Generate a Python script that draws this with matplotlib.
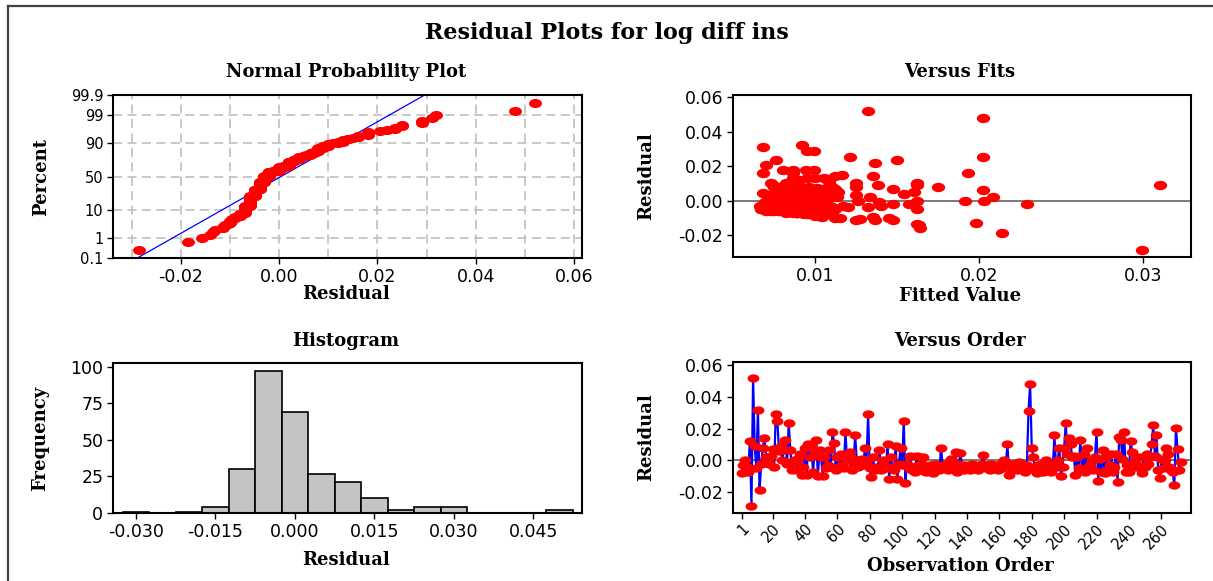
from statistics import NormalDist

import matplotlib
matplotlib.use("Agg")
import matplotlib.pyplot as plt
import numpy as np
from matplotlib.lines import Line2D
from matplotlib.path import Path
from matplotlib.ticker import FormatStrFormatter
from matplotlib.transforms import Affine2D

residuals = [
    -0.008, -0.003, 0.000, -0.004, -0.007, 0.012, -0.0285, 0.052, 0.009, -0.005,
    0.032, -0.0186, -0.002, 0.008, 0.014, 0.002, 0.000, -0.002, 0.003, 0.007,
    -0.004, 0.029, 0.025, 0.006, 0.009, 0.000, 0.0065, 0.013, -0.002, 0.0235,
    0.0065, -0.006, 0.000, -0.001, -0.006, 0.001, 0.004, -0.009, -0.004, 0.008,
    -0.009, 0.010, 0.002, 0.009, -0.007, 0.005, 0.013, -0.010, 0.0065, 0.002,
    -0.010, 0.002, -0.005, -0.003, 0.0063, -0.004, 0.018, 0.011, -0.006, 0.002,
    -0.004, 0.004, -0.003, -0.005, 0.018, 0.000, 0.003, 0.005, -0.006, -0.002,
    0.016, 0.000, -0.004, -0.002, 0.001, -0.003, 0.0075, -0.001, 0.029, -0.005,
    -0.0105, 0.002, -0.006, -0.004, -0.005, 0.0065, -0.006, 0.000, -0.003, -0.005,
    0.010, -0.0115, 0.002, -0.004, -0.006, 0.009, -0.0115, -0.002, 0.0075, -0.003,
    0.025, -0.014, -0.002, -0.005, 0.003, -0.006, -0.004, -0.007, 0.003, -0.003,
    -0.006, -0.002, 0.002, -0.005, -0.007, -0.004, -0.003, -0.006, -0.008, -0.002,
    -0.005, -0.004, -0.006, 0.008, -0.003, -0.005, -0.002, -0.006, -0.004, 0.001,
    -0.005, -0.003, 0.0055, -0.007, -0.002, 0.0045, -0.004, -0.006, -0.003, -0.005,
    -0.004, -0.006, -0.002, -0.005, -0.003, -0.004, -0.006, -0.003, -0.002, 0.0035,
    -0.004, -0.005, -0.003, -0.006, -0.002, -0.004, -0.005, -0.003, -0.006, -0.004,
    -0.002, -0.005, 0.000, -0.003, 0.010, -0.0095, -0.004, -0.002, -0.005, -0.003,
    -0.006, -0.001, -0.004, -0.002, -0.005, -0.007, -0.003, 0.031, 0.048, 0.008,
    0.002, -0.006, -0.008, -0.003, -0.005, -0.002, -0.007, -0.004, 0.000, -0.006,
    -0.003, -0.007, -0.005, 0.016, -0.004, 0.000, 0.008, -0.010, -0.004, 0.008,
    0.0235, 0.004, 0.014, 0.010, 0.002, 0.003, -0.0095, 0.002, -0.005, 0.013,
    -0.006, 0.004, -0.007, 0.008, -0.004, -0.003, 0.000, -0.006, 0.002, 0.018,
    -0.013, 0.001, -0.007, 0.0065, -0.008, 0.002, -0.006, -0.003, 0.004, -0.007,
    -0.004, 0.004, -0.0135, 0.015, 0.013, 0.001, 0.018, -0.007, -0.003, -0.007,
    0.012, 0.005, -0.004, 0.000, -0.003, 0.002, -0.005, -0.008, 0.002, -0.004,
    0.004, -0.002, 0.002, 0.010, 0.022, 0.003, 0.016, -0.006, -0.011, 0.001,
    -0.005, 0.000, 0.008, 0.004, -0.004, -0.006, -0.007, -0.0157, 0.0205, 0.007,
    -0.006, -0.001,
]

fitted = [
    0.0095, 0.0140, 0.0203, 0.0132, 0.0110, 0.0090, 0.0299, 0.0132, 0.0310, 0.0162,
    0.0092, 0.0214, 0.0229, 0.0175, 0.0135, 0.0208, 0.0191, 0.0157, 0.0125, 0.0147,
    0.0120, 0.0095, 0.0202, 0.0202, 0.0138, 0.0162, 0.0112, 0.0095, 0.0147, 0.0150,
    0.0104, 0.0085, 0.0126, 0.0139, 0.0090, 0.0098, 0.0154, 0.0102, 0.0088, 0.0125,
    0.0100, 0.0162, 0.0133, 0.0162, 0.0098, 0.0160, 0.0105, 0.0115, 0.0093, 0.0110,
    0.0112, 0.0096, 0.0083, 0.0101, 0.0087, 0.0090, 0.0094, 0.0108, 0.0092, 0.0085,
    0.0079, 0.0105, 0.0097, 0.0088, 0.0080, 0.0106, 0.0091, 0.0114, 0.0084, 0.0099,
    0.0068, 0.0089, 0.0094, 0.0103, 0.0082, 0.0117, 0.0087, 0.0096, 0.0099, 0.0108,
    0.0127, 0.0090, 0.0101, 0.0083, 0.0112, 0.0077, 0.0094, 0.0086, 0.0105, 0.0091,
    0.0082, 0.0136, 0.0097, 0.0110, 0.0087, 0.0074, 0.0147, 0.0093, 0.0101, 0.0085,
    0.0121, 0.0163, 0.0088, 0.0079, 0.0095, 0.0083, 0.0098, 0.0090, 0.0076, 0.0087,
    0.0074, 0.0081, 0.0092, 0.0070, 0.0089, 0.0076, 0.0084, 0.0080, 0.0093, 0.0071,
    0.0078, 0.0072, 0.0086, 0.0075, 0.0079, 0.0083, 0.0069, 0.0077, 0.0085, 0.0073,
    0.0071, 0.0080, 0.0078, 0.0082, 0.0074, 0.0068, 0.0077, 0.0070, 0.0088, 0.0076,
    0.0069, 0.0081, 0.0073, 0.0067, 0.0079, 0.0084, 0.0072, 0.0070, 0.0078, 0.0071,
    0.0075, 0.0068, 0.0082, 0.0074, 0.0069, 0.0077, 0.0073, 0.0066, 0.0079, 0.0072,
    0.0076, 0.0070, 0.0081, 0.0068, 0.0073, 0.0135, 0.0075, 0.0083, 0.0067, 0.0072,
    0.0078, 0.0069, 0.0074, 0.0080, 0.0071, 0.0086, 0.0077, 0.0068, 0.0202, 0.0085,
    0.0105, 0.0089, 0.0096, 0.0081, 0.0094, 0.0076, 0.0099, 0.0087, 0.0092, 0.0083,
    0.0090, 0.0088, 0.0079, 0.0193, 0.0097, 0.0086, 0.0091, 0.0145, 0.0103, 0.0078,
    0.0076, 0.0099, 0.0112, 0.0086, 0.0107, 0.0095, 0.0104, 0.0113, 0.0090, 0.0100,
    0.0093, 0.0082, 0.0101, 0.0096, 0.0088, 0.0109, 0.0094, 0.0085, 0.0106, 0.0086,
    0.0198, 0.0098, 0.0092, 0.0084, 0.0100, 0.0091, 0.0107, 0.0082, 0.0096, 0.0089,
    0.0095, 0.0087, 0.0162, 0.0116, 0.0086, 0.0102, 0.0099, 0.0097, 0.0083, 0.0088,
    0.0108, 0.0093, 0.0090, 0.0104, 0.0081, 0.0097, 0.0088, 0.0095, 0.0111, 0.0084,
    0.0092, 0.0079, 0.0101, 0.0125, 0.0136, 0.0089, 0.0086, 0.0094, 0.0125, 0.0098,
    0.0087, 0.0095, 0.0110, 0.0091, 0.0082, 0.0099, 0.0093, 0.0164, 0.0070, 0.0106,
    0.0088, 0.0097,
]

hist_centers = [-0.030, -0.025, -0.020, -0.015, -0.010, -0.005, 0.000, 0.005, 0.010,
                0.015, 0.020, 0.025, 0.030, 0.035, 0.040, 0.045, 0.050]
hist_counts = [1, 0, 1, 4, 30, 97, 69, 27, 21, 10, 2, 4, 4, 0, 0, 0, 2]

pct_ticks = [0.1, 1, 10, 50, 90, 99, 99.9]
pct_labels = ["0.1", "1", "10", "50", "90", "99", "99.9"]
order_ticks = [1, 20, 40, 60, 80, 100, 120, 140, 160, 180, 200, 220, 240, 260]

W, H = 1213, 581
RED = "#FF0000"
BLUE = "#0000FF"
SERIF = dict(family="DejaVu Serif", weight="bold")
# Minitab dots come out as flat ellipses in this picture
DOT = Path.unit_circle().transformed(Affine2D().scale(1.5, 1.0))

plt.rcParams["font.family"] = ["DejaVu Sans"]
plt.rcParams["axes.unicode_minus"] = False

fig = plt.figure(figsize=(W / 100, H / 100), dpi=100)
fig.patch.set_facecolor("white")

# panel frames in pixels: left, top, right, bottom
BOX_NPP = (113, 95, 582, 258)
BOX_FIT = (733, 95, 1191, 257)
BOX_HIST = (113, 363, 582, 513)
BOX_ORD = (733, 362, 1191, 513)


def make_axes(box):
    l, t, r, b = box
    ax = fig.add_axes([l / W, 1 - b / H, (r - l) / W, (b - t) / H])
    for s in ax.spines.values():
        s.set_linewidth(1.5)
        s.set_color("black")
    ax.tick_params(direction="out", length=4, width=1, labelsize=12.5, pad=3)
    return ax


def put_texts(ax, box, title, t_xy, xlabel, x_xy, ylabel, y_xy):
    l, t, r, b = box
    ax.set_title(title, fontsize=13, pad=0, va="center",
                 x=(t_xy[0] - l) / (r - l), y=(b - t_xy[1]) / (b - t), **SERIF)
    ax.set_xlabel(xlabel, fontsize=13, **SERIF)
    ax.xaxis.set_label_coords(x_xy[0] / W, 1 - x_xy[1] / H, transform=fig.transFigure)
    ax.xaxis.label.set_va("center")
    ax.set_ylabel(ylabel, fontsize=13, **SERIF)
    ax.yaxis.set_label_coords(y_xy[0] / W, 1 - y_xy[1] / H, transform=fig.transFigure)
    ax.yaxis.label.set_va("center")


n = len(residuals)
nd = NormalDist()

# ---- Normal probability plot
ax = make_axes(BOX_NPP)
r_sorted = np.sort(residuals)
ranks = (np.arange(1, n + 1) - 0.3) / (n + 0.4)
z = np.array([nd.inv_cdf(p) for p in ranks])
mu, sd = np.mean(residuals), np.std(residuals, ddof=1)
zl = np.array([-3.5, 3.5])
ax.plot(mu + sd * zl, zl, color=BLUE, lw=0.9, zorder=2)
ax.plot(r_sorted, z, ls="none", marker=DOT, ms=8.3, color=RED, mec=RED, zorder=3)
zt = [nd.inv_cdf(q / 100) for q in pct_ticks]
ax.set_yticks(zt)
ax.set_yticklabels(pct_labels)
ax.tick_params(axis="y", labelsize=10.5)
ax.set_ylim(zt[0], zt[-1])
ax.set_xticks([-0.02, 0.00, 0.02, 0.04, 0.06])
ax.set_xticks(np.arange(-0.03, 0.065, 0.01), minor=True)
ax.tick_params(which="minor", length=0)
ax.xaxis.set_major_formatter(FormatStrFormatter("%.2f"))
ax.set_xlim(-0.0338, 0.0616)
ax.set_axisbelow(True)
ax.grid(True, axis="x", which="both", color="#c4c4c4", ls=(0, (5, 3)), lw=1.3)
ax.grid(True, axis="y", which="major", color="#c4c4c4", ls=(0, (5, 3)), lw=1.3)
put_texts(ax, BOX_NPP, "Normal Probability Plot", (346, 72),
          "Residual", (346, 294), "Percent", (41, 177))

# ---- Versus fits
ax = make_axes(BOX_FIT)
ax.axhline(0, color="#707070", lw=1.3, zorder=1)
ax.plot(fitted, residuals, ls="none", marker=DOT, ms=8.6, color=RED, mec=RED, zorder=3)
ax.set_xticks([0.01, 0.02, 0.03])
ax.xaxis.set_major_formatter(FormatStrFormatter("%.2f"))
ax.set_yticks([-0.02, 0.00, 0.02, 0.04, 0.06])
ax.yaxis.set_major_formatter(FormatStrFormatter("%.2f"))
ax.set_xlim(0.00497, 0.0329)
ax.set_ylim(-0.0327, 0.0612)
put_texts(ax, BOX_FIT, "Versus Fits", (960, 72),
          "Fitted Value", (960, 296), "Residual", (646, 176))

# ---- Histogram
ax = make_axes(BOX_HIST)
ax.bar(hist_centers, hist_counts, width=0.005, color="#c4c4c4",
       edgecolor="black", linewidth=1.2)
ax.set_xticks([-0.030, -0.015, 0.000, 0.015, 0.030, 0.045])
ax.xaxis.set_major_formatter(FormatStrFormatter("%.3f"))
ax.set_yticks([0, 25, 50, 75, 100])
ax.set_xlim(-0.0343, 0.0542)
ax.set_ylim(0, 102.7)
put_texts(ax, BOX_HIST, "Histogram", (346, 341),
          "Residual", (346, 560), "Frequency", (40, 438))

# ---- Versus order
ax = make_axes(BOX_ORD)
obs = np.arange(1, n + 1)
ax.axhline(0, color="#707070", lw=1.3, zorder=1)
ax.plot(obs, residuals, color=BLUE, lw=1.6, marker=DOT, ms=7.5,
        mfc=RED, mec=RED, zorder=3)
ax.set_xticks(order_ticks)
ax.tick_params(axis="x", labelsize=10.5, pad=2)
plt.setp(ax.get_xticklabels(), rotation=45, ha="right", rotation_mode="anchor")
ax.set_yticks([-0.02, 0.00, 0.02, 0.04, 0.06])
ax.yaxis.set_major_formatter(FormatStrFormatter("%.2f"))
ax.set_xlim(-4.4, 278.3)
ax.set_ylim(-0.0331, 0.0619)
put_texts(ax, BOX_ORD, "Versus Order", (960, 341),
          "Observation Order", (960, 566), "Residual", (646, 437))

fig.text(607 / W, 1 - 33 / H, "Residual Plots for log diff ins",
         ha="center", va="center", fontsize=16, **SERIF)

# outer frame (top and left edges only are visible)
fig.add_artist(Line2D([8 / W, 1], [1 - 6 / H, 1 - 6 / H],
                      transform=fig.transFigure, color="#404040", lw=1.6))
fig.add_artist(Line2D([8 / W, 8 / W], [0, 1 - 6 / H],
                      transform=fig.transFigure, color="#404040", lw=1.6))

fig.savefig("out.png", dpi=100)
